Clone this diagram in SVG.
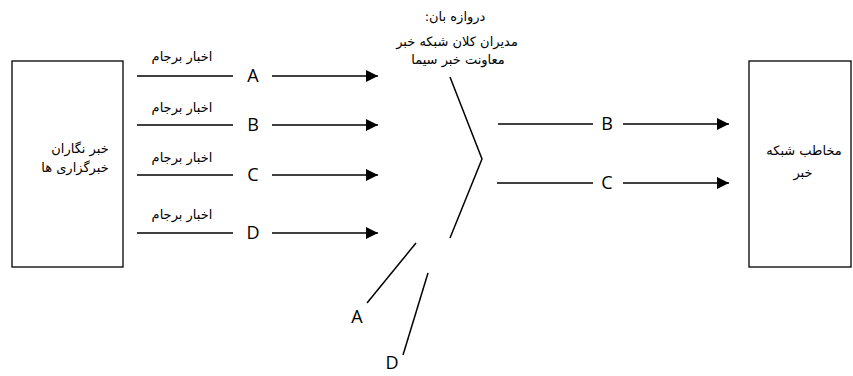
<svg xmlns="http://www.w3.org/2000/svg" width="853" height="376" viewBox="0 0 853 376">
<style>
.box{fill:#fff;stroke:#000;stroke-width:1.3}
.ln{stroke:#000;stroke-width:1.5;fill:none}
.fa{font-family:"DejaVu Sans","Noto Sans",sans-serif;font-size:13px;fill:#000;text-anchor:middle;direction:rtl;unicode-bidi:embed}
.let{font-family:"Open Sans","Liberation Sans",sans-serif;font-size:18px;fill:#000;text-anchor:middle}
</style>
<defs>
<marker id="ah" markerWidth="12" markerHeight="12" refX="12" refY="6" orient="auto" markerUnits="userSpaceOnUse">
<path d="M0,0 L12,6 L0,12 z" fill="#000"/>
</marker>
</defs>
<rect width="853" height="376" fill="#fff"/>
<g id="source">
<rect class="box" x="12" y="61" width="111" height="206"/>
<text class="fa" x="80" y="153" direction="rtl">خبر نگاران</text>
<text class="fa" x="75" y="172" direction="rtl">خبرگزاری ها</text>
</g>
<g id="audience">
<rect class="box" x="749" y="61" width="102" height="206"/>
<text class="fa" x="804" y="155" direction="rtl">مخاطب شبکه</text>
<text class="fa" x="803" y="177" direction="rtl">خبر</text>
</g>
<g id="gatekeeper">
<text class="fa" x="455" y="21" direction="rtl">دروازه بان:</text>
<text class="fa" x="457" y="46" direction="rtl">مدیران کلان شبکه خبر</text>
<text class="fa" x="458" y="64" direction="rtl">معاونت خبر سیما</text>
</g>
<g id="connectors">
<line class="ln" x1="137" y1="76" x2="233" y2="76"/>
<line class="ln" x1="272" y1="76" x2="378" y2="76" marker-end="url(#ah)"/>
<line class="ln" x1="137" y1="125" x2="233" y2="125"/>
<line class="ln" x1="272" y1="125" x2="378" y2="125" marker-end="url(#ah)"/>
<line class="ln" x1="137" y1="175" x2="233" y2="175"/>
<line class="ln" x1="272" y1="175" x2="378" y2="175" marker-end="url(#ah)"/>
<line class="ln" x1="137" y1="233" x2="233" y2="233"/>
<line class="ln" x1="272" y1="233" x2="378" y2="233" marker-end="url(#ah)"/>
<polyline class="ln" points="450,77 482,159 450,238"/>
<line class="ln" x1="416" y1="243" x2="367" y2="303"/>
<line class="ln" x1="428" y1="273" x2="403" y2="355"/>
<line class="ln" x1="498" y1="124" x2="593" y2="124"/>
<line class="ln" x1="623" y1="124" x2="729" y2="124" marker-end="url(#ah)"/>
<line class="ln" x1="497" y1="183" x2="593" y2="183"/>
<line class="ln" x1="623" y1="183" x2="729" y2="183" marker-end="url(#ah)"/>
</g>
<g id="labels">
<text class="fa" x="182" y="61" direction="rtl">اخبار برجام</text>
<text class="fa" x="182" y="112" direction="rtl">اخبار برجام</text>
<text class="fa" x="182" y="162" direction="rtl">اخبار برجام</text>
<text class="fa" x="182" y="219" direction="rtl">اخبار برجام</text>
<text class="let" x="253" y="82">A</text>
<text class="let" x="253" y="131">B</text>
<text class="let" x="253" y="181">C</text>
<text class="let" x="253" y="239">D</text>
<text class="let" x="607" y="130">B</text>
<text class="let" x="607" y="189">C</text>
<text class="let" x="357" y="323">A</text>
<text class="let" x="392" y="369">D</text>
</g>
</svg>
